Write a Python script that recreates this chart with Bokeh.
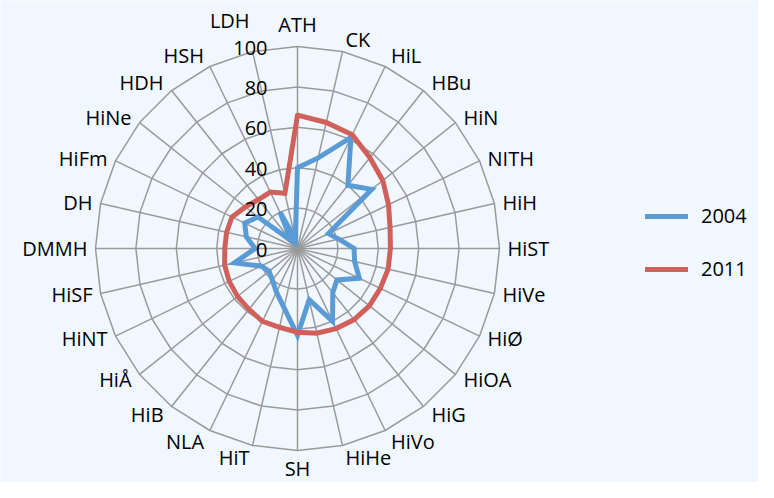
import numpy as np
from bokeh.plotting import figure
from bokeh.models import Range1d, Legend, LegendItem, ColumnDataSource
from bokeh.core.properties import value
from bokeh.embed import file_html
from bokeh.resources import INLINE

# ---------------- data ----------------
categories = ["ATH", "CK", "HiL", "HBu", "HiN", "NITH", "HiH", "HiST", "HiVe", "HiØ",
              "HiOA", "HiG", "HiVo", "HiHe", "SH", "HiT", "NLA", "HiB", "HiÅ", "HiNT",
              "HiSF", "DMMH", "DH", "HiFm", "HiNe", "HDH", "HSH", "LDH"]
values_2004 = [40, 46, 61, 40, 47, 17, 21, 28, 29, 34, 25, 28, 40, 26, 43, 30, 24, 20,
               18, 20, 32, 21, 26, 29, 25, 5, 20, 5]
values_2011 = [66, 64, 62.5, 57.5, 54, 50, 47, 46, 46, 45.5, 45.5, 45, 44, 43, 41.5, 40,
               40, 38.5, 38, 37.5, 37, 36, 36, 36, 33, 31, 31, 28]
series_names = ["2004", "2011"]
ring_levels = [0, 20, 40, 60, 80, 100]
ring_labels = ["0", "20", "40", "60", "80", "100"]

# ---------------- style ----------------
BG = "#F0F7FF"
GRID = "#9A9A9A"
BLUE = "#5B9BD5"
RED = "#D0605A"
FONT = "Open Sans"
FS = "20px"

W, H = 758, 482
SCALE = 2.02          # px per value unit
CX, CY = 297, 248     # centre in figure pixels (from top-left)
RMAX = 100

x_range = Range1d(-CX / SCALE, (W - CX) / SCALE)
y_range = Range1d(-(H - CY) / SCALE, CY / SCALE)

p = figure(width=W, height=H, x_range=x_range, y_range=y_range,
           x_axis_type=None, y_axis_type=None,
           output_backend="svg", toolbar_location=None, min_border=0,
           background_fill_color=BG, border_fill_color=BG, outline_line_color=None)

N = len(categories)
theta = 2 * np.pi * np.arange(N) / N
s, c = np.sin(theta), np.cos(theta)

# rings
xs, ys = [], []
for lv in ring_levels[1:]:
    xs.append(list(lv * s) + [lv * s[0]])
    ys.append(list(lv * c) + [lv * c[0]])
p.multi_line(xs, ys, line_color=GRID, line_width=1.5)

# spokes
p.segment(x0=np.zeros(N), y0=np.zeros(N), x1=RMAX * s, y1=RMAX * c,
          line_color=GRID, line_width=1.5)

# series
renderers = []
for vals, col in [(values_2004, BLUE), (values_2011, RED)]:
    v = np.array(vals, dtype=float)
    x = list(v * s) + [v[0] * s[0]]
    y = list(v * c) + [v[0] * c[0]]
    r = p.line(x, y, line_color=col, line_width=5, line_join="miter", line_cap="round")
    renderers.append(r)

# value-axis labels
p.text(x=[0] * len(ring_levels), y=ring_levels, text=ring_labels,
       x_offset=-30, y_offset=1, text_align="right", text_baseline="middle",
       text_font=value(FONT), text_font_size=FS, text_color="#000000")

# category labels
groups = {"left": dict(x=[], y=[], t=[], xo=[], yo=[]),
          "right": dict(x=[], y=[], t=[], xo=[], yo=[]),
          "center": dict(x=[], y=[], t=[], xo=[], yo=[])}
for i, name in enumerate(categories):
    si, ci = s[i], c[i]
    if abs(si) < 0.05:
        g = "center"
        xo = 0.0
        yo = -22.0 * ci if ci > 0 else 18.0
    else:
        g = "left" if si > 0 else "right"
        xo = 8.0 * np.sign(si) * min(1.0, abs(si) / 0.6)
        yo = -13.0 * ci * abs(ci)
        if name == "LDH":
            yo -= 19
    d = groups[g]
    d["x"].append(RMAX * si)
    d["y"].append(RMAX * ci)
    d["t"].append(name)
    d["xo"].append(xo)
    d["yo"].append(yo)

for align, d in groups.items():
    src = ColumnDataSource(dict(x=d["x"], y=d["y"], t=d["t"], xo=d["xo"], yo=d["yo"]))
    p.text(x="x", y="y", text="t", x_offset="xo", y_offset="yo", source=src,
           text_align=align, text_baseline="middle",
           text_font=value(FONT), text_font_size=FS, text_color="#000000")

legend = Legend(items=[LegendItem(label=series_names[0], renderers=[renderers[0]]),
                       LegendItem(label=series_names[1], renderers=[renderers[1]])],
                location=(645, 200), glyph_width=43, glyph_height=20, label_height=20,
                spacing=26, label_standoff=13, padding=0, margin=0,
                border_line_color=None, background_fill_alpha=0,
                label_text_font=FONT, label_text_font_size=FS, label_text_color="#000000")
p.add_layout(legend)

html = file_html(p, INLINE, title="Radar chart")
html = html.replace("<body>", '<body style="background-color:%s;">' % BG, 1)
open("out.html", "w").write(html)
